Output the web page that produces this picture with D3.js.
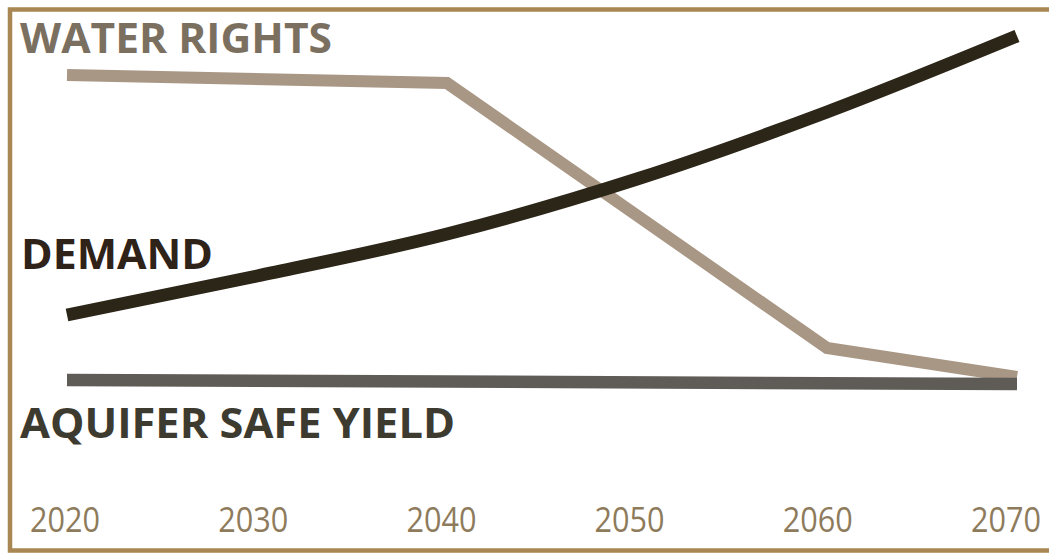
<!DOCTYPE html>
<html>
<head>
<meta charset="utf-8">
<script src="https://cdn.jsdelivr.net/npm/d3@7"></script>
<style>
  html, body { margin: 0; padding: 0; background: #fff; }
  svg { display: block; }
</style>
</head>
<body>
<div id="chart"></div>
<script>
// years on the x axis
var years = [2020, 2030, 2040, 2050, 2060, 2070]

// series values (relative units, 0-100)
var waterRights = [[2020, 86.25], [2040, 84.25], [2060, 18], [2070, 10.75]]
var demand = [[2020, 26.25], [2030, 36], [2040, 46.5], [2050, 60.25], [2060, 77], [2070, 96]]
var safeYield = [[2020, 10], [2070, 9]]

var labels = ['WATER RIGHTS', 'DEMAND', 'AQUIFER SAFE YIELD']

var W = 1049, H = 553

var svg = d3.select('#chart')
  .append('svg')
  .attr('width', W)
  .attr('height', H)

var x = d3.scaleLinear().domain([2020, 2070]).range([67, 1017])
var xLabel = d3.scaleLinear().domain([2020, 2070]).range([65, 1006])
var y = d3.scaleLinear().domain([0, 100]).range([420, 20])

// frame (open on the right)
var frame = '#a98753'
svg.append('path')
  .attr('d', 'M' + W + ',9.5 H10 V550.5 H' + W)
  .attr('fill', 'none')
  .attr('stroke', frame)
  .attr('stroke-width', 4.5)

var line = d3.line()
  .x(d => x(d[0]))
  .y(d => y(d[1]))

var smooth = d3.line()
  .x(d => x(d[0]))
  .y(d => y(d[1]))
  .curve(d3.curveMonotoneX)

svg.append('path')
  .datum(waterRights)
  .attr('d', line)
  .attr('fill', 'none')
  .attr('stroke', '#a99785')
  .attr('stroke-width', 12)
  .attr('stroke-linejoin', 'miter')

svg.append('path')
  .datum(demand)
  .attr('d', smooth)
  .attr('fill', 'none')
  .attr('stroke', '#2c2619')
  .attr('stroke-width', 13)

svg.append('path')
  .datum(safeYield)
  .attr('d', line)
  .attr('fill', 'none')
  .attr('stroke', '#5f5b56')
  .attr('stroke-width', 12.5)

// series labels
var labelInfo = [
  {text: labels[0], x: 20, y: 53, len: 312, color: '#7b705f'},
  {text: labels[1], x: 21, y: 269, len: 192, color: '#2e2219'},
  {text: labels[2], x: 20, y: 438, len: 435, color: '#3d3a30'}
]

svg.selectAll('text.series')
  .data(labelInfo)
  .enter()
  .append('text')
  .attr('class', 'series')
  .attr('x', d => d.x)
  .attr('y', d => d.y)
  .attr('textLength', d => d.len)
  .attr('lengthAdjust', 'spacingAndGlyphs')
  .style('font-family', '"Open Sans", sans-serif')
  .style('font-weight', 700)
  .style('font-size', '42px')
  .style('fill', d => d.color)
  .text(d => d.text)

// year ticks
svg.selectAll('text.year')
  .data(years)
  .enter()
  .append('text')
  .attr('class', 'year')
  .attr('x', d => xLabel(d) - 35)
  .attr('y', 532)
  .attr('textLength', 70)
  .attr('lengthAdjust', 'spacingAndGlyphs')
  .style('font-family', '"Open Sans", sans-serif')
  .style('font-size', '34px')
  .style('fill', '#8e7b5c')
  .text(d => d)
</script>
</body>
</html>
